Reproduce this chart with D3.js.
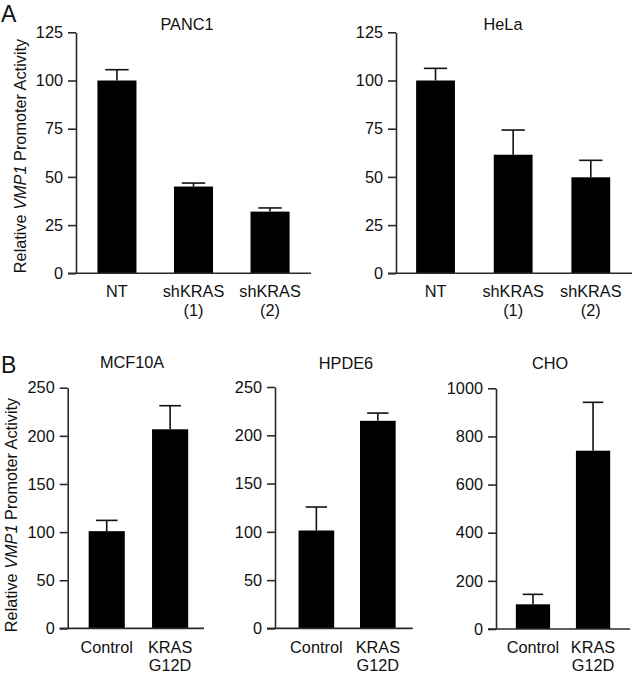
<!DOCTYPE html>
<html><head><meta charset="utf-8">
<script src="https://cdn.jsdelivr.net/npm/d3@7"></script>
<style>
html,body{margin:0;padding:0;background:#fff;}
text{font-family:"Liberation Sans",Arial,sans-serif;fill:#111;}
</style></head>
<body>
<script>
// ---------- data ----------
const panelATitles = ["PANC1", "HeLa"];
const panelACategories = [["NT"], ["shKRAS", "(1)"], ["shKRAS", "(2)"]];
const panelATicks = [0, 25, 50, 75, 100, 125];
const panc1Values = [100, 45, 32];
const panc1Errors = [5.6, 1.8, 1.9];
const helaValues = [100, 61.5, 49.8];
const helaErrors = [6.3, 12.8, 8.8];

const panelBTitles = ["MCF10A", "HPDE6", "CHO"];
const panelBCategories = [["Control"], ["KRAS", "G12D"]];
const mcfTicks = [0, 50, 100, 150, 200, 250];
const hpdeTicks = [0, 50, 100, 150, 200, 250];
const choTicks = [0, 200, 400, 600, 800, 1000];
const mcfValues = [101, 206.8];
const mcfErrors = [11.2, 24.5];
const hpdeValues = [101.4, 215];
const hpdeErrors = [24.3, 8];
const choValues = [102.6, 740.8];
const choErrors = [41.4, 201];

// ---------- layout ----------
const W = 633, H = 675;
const svg = d3.select("body").append("svg").attr("width", W).attr("height", H);
const FS = 16.3;
const AX = "#2a2a2a";

const panels = [
  {title: panelATitles[0], cats: panelACategories, ticks: panelATicks, vals: panc1Values, errs: panc1Errors,
   x0: 76, x1: 311, yb: 273.3, yt: 32.3, titleX: 187, titleY: 30, catY: 297, catDy: 18.5,
   pi: 0.49, po: 0.28, align: 0.5},
  {title: panelATitles[1], cats: panelACategories, ticks: panelATicks, vals: helaValues, errs: helaErrors,
   x0: 396, x1: 632, yb: 273.3, yt: 32.3, titleX: 503, titleY: 30, catY: 297, catDy: 18.5,
   pi: 0.5, po: 0.27, align: 0.48},
  {title: panelBTitles[0], cats: panelBCategories, ticks: mcfTicks, vals: mcfValues, errs: mcfErrors,
   x0: 67.7, x1: 204, yb: 628.4, yt: 387.7, titleX: 132, titleY: 368, catY: 652.5, catDy: 18.5,
   pi: 0.43, po: 0.29, align: 0.57},
  {title: panelBTitles[1], cats: panelBCategories, ticks: hpdeTicks, vals: hpdeValues, errs: hpdeErrors,
   x0: 275, x1: 412.7, yb: 628.4, yt: 387, titleX: 346, titleY: 368.5, catY: 652.5, catDy: 18.5,
   pi: 0.42, po: 0.33, align: 0.58},
  {title: panelBTitles[2], cats: panelBCategories, ticks: choTicks, vals: choValues, errs: choErrors,
   x0: 496, x1: 630, yb: 629, yt: 388.3, titleX: 550, titleY: 368.5, catY: 652.5, catDy: 18.5,
   pi: 0.43, po: 0.33, align: 0.5}
];

panels.forEach(p => {
  const g = svg.append("g");
  const idx = d3.range(p.vals.length);
  const x = d3.scaleBand().domain(idx).range([p.x0, p.x1])
    .paddingInner(p.pi).paddingOuter(p.po).align(p.align);
  const y = d3.scaleLinear().domain([d3.min(p.ticks), d3.max(p.ticks)]).range([p.yb, p.yt]);

  // bars
  g.selectAll("rect.bar").data(p.vals).join("rect")
    .attr("x", (d, i) => x(i)).attr("width", x.bandwidth())
    .attr("y", d => y(d)).attr("height", d => y(0) - y(d))
    .attr("fill", "#000");

  // error bars (upper only)
  const capW = x.bandwidth() * 0.6;
  idx.forEach(i => {
    const cx = x(i) + x.bandwidth() / 2;
    g.append("line").attr("x1", cx).attr("x2", cx)
      .attr("y1", y(p.vals[i])).attr("y2", y(p.vals[i] + p.errs[i]))
      .attr("stroke", "#111").attr("stroke-width", 1.6);
    g.append("line").attr("x1", cx - capW / 2).attr("x2", cx + capW / 2)
      .attr("y1", y(p.vals[i] + p.errs[i])).attr("y2", y(p.vals[i] + p.errs[i]))
      .attr("stroke", "#111").attr("stroke-width", 1.6);
  });

  // y axis
  const ya = g.append("g").attr("transform", `translate(${p.x0},0)`)
    .call(d3.axisLeft(y).tickValues(p.ticks).tickFormat(d3.format("d"))
      .tickSize(8).tickPadding(5).tickSizeOuter(0));
  ya.select(".domain").attr("stroke", AX).attr("stroke-width", 1.6);
  ya.selectAll(".tick line").attr("stroke", AX).attr("stroke-width", 1.6);
  ya.selectAll(".tick text").attr("font-size", FS).attr("font-family", null).attr("fill", "#111");

  // x axis line
  g.append("line").attr("x1", p.x0 - 8).attr("x2", p.x1).attr("y1", y(0)).attr("y2", y(0))
    .attr("stroke", AX).attr("stroke-width", 1.6);

  // category labels
  p.cats.forEach((lines, i) => {
    const t = g.append("text").attr("text-anchor", "middle").attr("font-size", FS)
      .attr("x", x(i) + x.bandwidth() / 2).attr("y", p.catY);
    lines.forEach((l, k) => {
      t.append("tspan").attr("x", x(i) + x.bandwidth() / 2).attr("dy", k === 0 ? 0 : p.catDy).text(l);
    });
  });

  // title
  g.append("text").attr("x", p.titleX).attr("y", p.titleY).attr("text-anchor", "middle")
    .attr("font-size", FS).text(p.title);
});

// y-axis labels
function yLabel(cx, cy) {
  const t = svg.append("text").attr("transform", `translate(${cx},${cy}) rotate(-90)`)
    .attr("text-anchor", "middle").attr("font-size", 16.3);
  t.append("tspan").text("Relative ");
  t.append("tspan").attr("font-style", "italic").text("VMP1");
  t.append("tspan").text(" Promoter Activity");
}
yLabel(26, 156);
yLabel(17, 515);

// panel letters
svg.append("text").attr("x", 1).attr("y", 22).attr("font-size", 23).text("A");
svg.append("text").attr("x", 1).attr("y", 373).attr("font-size", 23).text("B");
</script>
</body></html>
